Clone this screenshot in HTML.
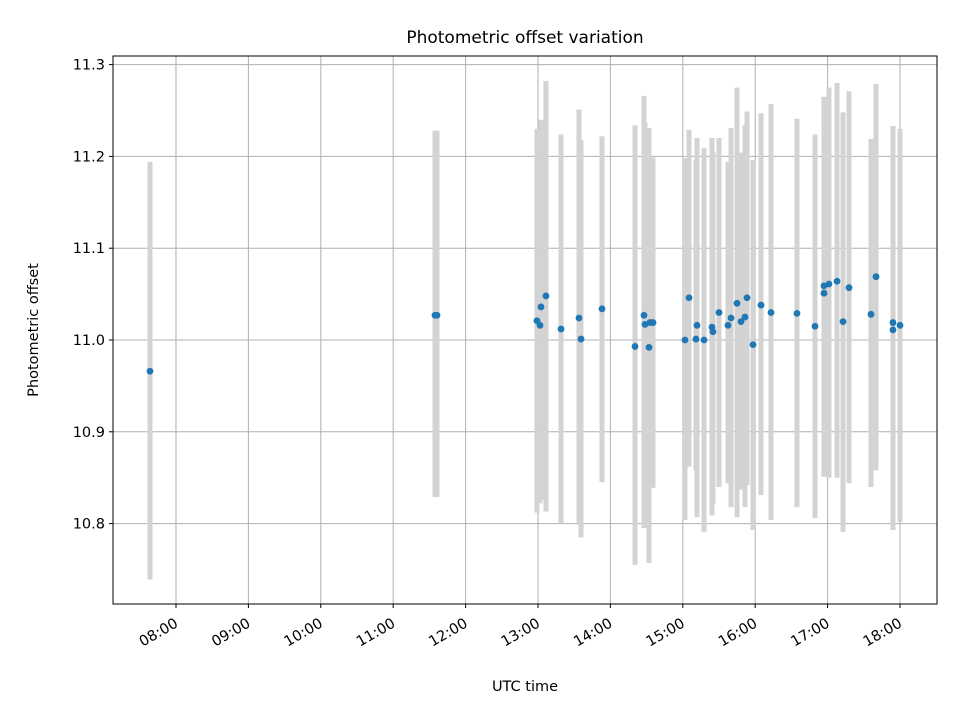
<!DOCTYPE html>
<html><head><meta charset="utf-8"><style>
body{margin:0;background:#fff;font-family:"Liberation Sans","DejaVu Sans",sans-serif;}
svg text{font-family:"DejaVu Sans","Liberation Sans",sans-serif;fill:#000;}
</style></head><body>
<svg id="chart" width="960" height="720" viewBox="0 0 960 720" xmlns="http://www.w3.org/2000/svg">
<rect width="960" height="720" fill="#fff"/>
<g id="grid"></g>
<g id="errbars"></g>
<g id="points"></g>
<rect x="113" y="56" width="824" height="548" fill="none" stroke="#000" stroke-width="1"/>
<g id="xticks"></g>
<g id="yticks"></g>
<text x="525" y="43" font-size="17" text-anchor="middle">Photometric offset variation</text>
<text x="525" y="691" font-size="14.5" text-anchor="middle">UTC time</text>
<text transform="translate(38,330) rotate(-90)" font-size="14.5" text-anchor="middle">Photometric offset</text>
</svg>
<script>
const times=[7.641,11.577,11.605,12.986,13.028,13.041,13.110,13.318,13.566,13.594,13.884,14.340,14.464,14.478,14.533,14.547,14.588,15.030,15.086,15.182,15.196,15.293,15.403,15.417,15.500,15.624,15.666,15.749,15.804,15.859,15.887,15.970,16.080,16.218,16.577,16.826,16.950,16.950,17.019,17.130,17.213,17.296,17.599,17.669,17.903,17.903,18.000];
const values=[10.966,11.027,11.027,11.021,11.016,11.036,11.048,11.012,11.024,11.001,11.034,10.993,11.027,11.017,10.992,11.019,11.019,11.000,11.046,11.001,11.016,11.000,11.014,11.009,11.030,11.016,11.024,11.040,11.020,11.025,11.046,10.995,11.038,11.030,11.029,11.015,11.051,11.059,11.061,11.064,11.020,11.057,11.028,11.069,11.019,11.011,11.016];
const upper=[11.194,11.228,11.228,11.230,11.228,11.240,11.282,11.224,11.251,11.218,11.222,11.234,11.266,11.237,11.231,11.199,11.199,11.198,11.229,11.196,11.220,11.209,11.220,11.205,11.220,11.194,11.231,11.275,11.204,11.234,11.249,11.196,11.247,11.257,11.241,11.224,11.260,11.265,11.275,11.280,11.248,11.271,11.219,11.279,11.233,11.233,11.230];
const lower=[10.739,10.829,10.829,10.812,10.822,10.826,10.813,10.800,10.801,10.785,10.845,10.755,10.795,10.806,10.757,10.839,10.839,10.804,10.862,10.858,10.807,10.791,10.809,10.822,10.840,10.844,10.818,10.807,10.837,10.818,10.842,10.793,10.831,10.804,10.818,10.806,10.853,10.851,10.850,10.850,10.791,10.844,10.840,10.858,10.793,10.798,10.802];
const xTickHours=[8,9,10,11,12,13,14,15,16,17,18];
const xTickLabels=["08:00","09:00","10:00","11:00","12:00","13:00","14:00","15:00","16:00","17:00","18:00"];
const yTickValues=[10.8,10.9,11.0,11.1,11.2,11.3];
const yTickLabels=["10.8","10.9","11.0","11.1","11.2","11.3"];

const X0=113,X1=937,Y0=56,Y1=604;
const H0=7.130,H1=18.511,V0=10.7124,V1=11.3094;
const xs=h=>X0+(h-H0)/(H1-H0)*(X1-X0);
const ys=v=>Y1-(v-V0)/(V1-V0)*(Y1-Y0);
const NS="http://www.w3.org/2000/svg";
function mk(tag,attrs,parent){const e=document.createElementNS(NS,tag);for(const k in attrs)e.setAttribute(k,attrs[k]);parent.appendChild(e);return e;}
const grid=document.getElementById('grid'),eb=document.getElementById('errbars'),pts=document.getElementById('points'),xt=document.getElementById('xticks'),yt=document.getElementById('yticks');
xTickHours.forEach((h,i)=>{const x=xs(h);
 const g=mk('line',{x1:x,x2:x,y1:Y0,y2:Y1,stroke:'#b0b0b0','stroke-width':1},grid);
 
 
 const t=mk('line',{x1:x,x2:x,y1:Y1,y2:Y1+4,stroke:'#000'},xt);
 
 
 const tx=mk('text',{'font-size':14.5,'text-anchor':'end',transform:`translate(${x+3},${Y1+22}) rotate(-30)`},xt);
 tx.textContent=xTickLabels[i];
 
 
});
yTickValues.forEach((v,i)=>{const y=ys(v);
 const g=mk('line',{x1:X0,x2:X1,y1:y,y2:y,stroke:'#b0b0b0','stroke-width':1},grid);
 
 
 const t=mk('line',{x1:X0-4,x2:X0,y1:y,y2:y,stroke:'#000'},yt);
 
 
 const tx=mk('text',{x:X0-8,y:y+5,'font-size':14.5,'text-anchor':'end'},yt);
 tx.textContent=yTickLabels[i];
 
 
});
times.forEach((h,i)=>{const x=xs(h);
 const b=mk('line',{x1:x,x2:x,y1:ys(upper[i]),y2:ys(lower[i]),stroke:'#d3d3d3','stroke-width':5},eb);
 
 
});
times.forEach((h,i)=>{
 const c=mk('circle',{cx:xs(h),cy:ys(values[i]),r:3.4,fill:'#1f77b4'},pts);
 
 
});
</script>
</body></html>
